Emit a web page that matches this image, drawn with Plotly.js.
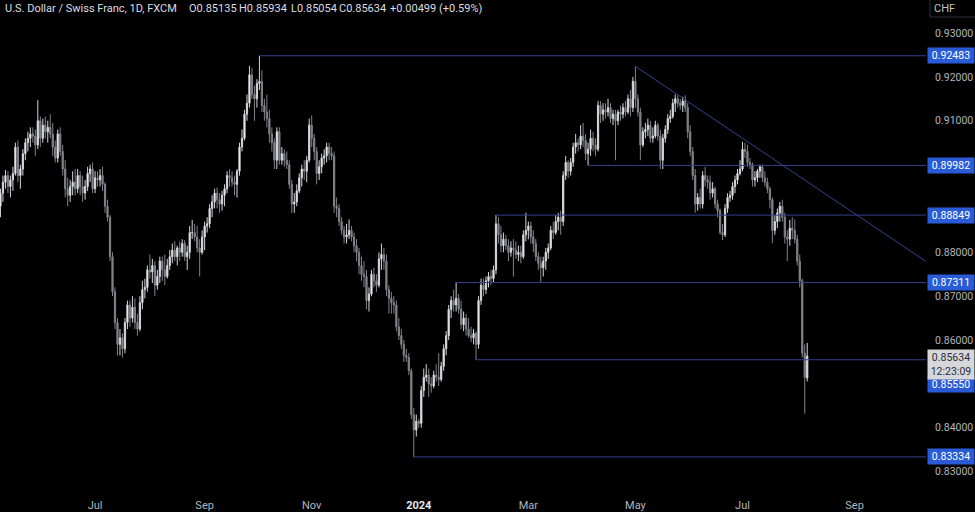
<!DOCTYPE html>
<html><head><meta charset="utf-8">
<script src="https://cdn.plot.ly/plotly-3.0.1.min.js"></script>
<style>html,body{margin:0;padding:0;background:#000;}#chart{width:975px;height:512px;}</style>
</head><body><div id="chart"></div>
<script>
// ---- data (USD/CHF daily, FXCM) ----
const startDate = '2023-05-10';
const open = [
.8905,.8935,.8960,.8975,.8950,.8965,.8980,.9040,.8975,.8990,
.9025,.9050,.9060,.9070,.9065,.9045,.9100,.9060,.9090,.9075,
.9085,.9070,.9040,.9015,.9070,.9030,.8990,.8945,.8930,.8950,
.8960,.8945,.8975,.8950,.8935,.8950,.8980,.8990,.8945,.8970,
.8965,.8975,.8955,.8905,.8880,.8790,.8710,.8640,.8590,.8605,
.8580,.8640,.8680,.8650,.8675,.8640,.8625,.8685,.8715,.8720,
.8760,.8755,.8770,.8725,.8745,.8780,.8760,.8745,.8770,.8790,
.8805,.8790,.8810,.8800,.8820,.8790,.8800,.8845,.8845,.8835,
.8810,.8800,.8835,.8860,.8865,.8900,.8915,.8935,.8920,.8910,
.8930,.8945,.8975,.8970,.8960,.8955,.8985,.9040,.9060,.9115,
.9140,.9205,.9160,.9150,.9185,.9190,.9135,.9120,.9105,.9070,
.9050,.9010,.9075,.9010,.9025,.9010,.9000,.8955,.8910,.8915,
.8940,.8970,.8990,.8985,.9010,.9090,.9060,.9030,.8980,.8995,
.9015,.9020,.9040,.9025,.9020,.8905,.8900,.8870,.8850,.8835,
.8840,.8850,.8835,.8815,.8800,.8770,.8750,.8745,.8690,.8705,
.8750,.8735,.8725,.8785,.8795,.8780,.8715,.8695,.8685,.8680,
.8630,.8610,.8590,.8565,.8560,.8530,.8430,.8395,.8415,.8410,
.8485,.8515,.8520,.8500,.8495,.8520,.8515,.8510,.8540,.8580,
.8610,.8670,.8690,.8680,.8695,.8670,.8635,.8650,.8625,.8610,
.8605,.8615,.8590,.8690,.8725,.8715,.8735,.8745,.8740,.8760,
.8865,.8840,.8815,.8830,.8815,.8800,.8810,.8805,.8795,.8800,
.8790,.8840,.8850,.8860,.8835,.8820,.8790,.8775,.8765,.8780,
.8800,.8810,.8850,.8845,.8870,.8880,.8870,.8975,.9005,.8985,
.9005,.9040,.9050,.9045,.9065,.9055,.9025,.9035,.9060,.9045,
.9035,.9135,.9115,.9125,.9120,.9130,.9105,.9115,.9100,.9120,
.9115,.9130,.9120,.9150,.9130,.9190,.9150,.9120,.9045,.9075,
.9080,.9090,.9060,.9065,.9090,.9065,.9010,.9060,.9080,.9105,
.9110,.9140,.9150,.9140,.9135,.9145,.9130,.9075,.9030,.8975,
.8910,.8925,.8910,.8975,.8965,.8960,.8935,.8945,.8910,.8895,
.8845,.8840,.8900,.8925,.8930,.8950,.8965,.8980,.8990,.9035,
.9030,.9005,.9000,.8965,.8970,.8985,.8995,.8970,.8960,.8945,
.8920,.8850,.8870,.8890,.8905,.8880,.8835,.8830,.8855,.8850,
.8830,.8780,.8735,.8570,.85135];
const high = [
.8945,.8975,.8988,.8985,.8975,.8995,.9050,.9055,.9000,.9035,
.9060,.9075,.9085,.9085,.9080,.9147,.9110,.9105,.9110,.9100,
.9115,.9095,.9055,.9080,.9085,.9045,.9010,.8970,.8965,.8985,
.8990,.8990,.8985,.8975,.8965,.8995,.9000,.9005,.8985,.8985,
.8990,.8995,.8960,.8920,.8885,.8800,.8720,.8650,.8625,.8615,
.8650,.8690,.8690,.8700,.8695,.8660,.8700,.8735,.8740,.8770,
.8795,.8785,.8780,.8760,.8790,.8790,.8795,.8785,.8805,.8820,
.8825,.8815,.8825,.8830,.8828,.8815,.8860,.8874,.8865,.8860,
.8830,.8850,.8870,.8880,.8910,.8930,.8945,.8948,.8935,.8940,
.8955,.8985,.8990,.8985,.8975,.8990,.9050,.9080,.9125,.9160,
.9225,.9220,.9180,.9195,.9248,.9215,.9150,.9160,.9125,.9085,
.9060,.9085,.9085,.9040,.9035,.9030,.9010,.8965,.8935,.8955,
.8980,.9000,.9010,.9020,.9105,.9112,.9070,.9040,.9010,.9025,
.9035,.9050,.9050,.9040,.9030,.8925,.8910,.8880,.8860,.8865,
.8875,.8860,.8845,.8830,.8810,.8790,.8780,.8760,.8720,.8760,
.8765,.8750,.8800,.8820,.8810,.8795,.8725,.8710,.8700,.8690,
.8650,.8625,.8600,.8580,.8570,.8535,.8445,.8430,.8420,.8495,
.8535,.8545,.8535,.8515,.8530,.8545,.8570,.8550,.8590,.8620,
.8680,.8700,.8715,.8731,.8705,.8690,.8665,.8660,.8650,.8630,
.8625,.8620,.8700,.8740,.8740,.8745,.8755,.8760,.8770,.8885,
.8880,.8860,.8845,.8840,.8830,.8825,.8830,.8825,.8815,.8815,
.8850,.8890,.8870,.8870,.8850,.8830,.8800,.8790,.8790,.8810,
.8820,.8860,.8870,.8885,.8890,.8895,.8985,.9020,.9010,.9015,
.9050,.9070,.9060,.9090,.9095,.9070,.9050,.9080,.9075,.9060,
.9145,.9145,.9140,.9140,.9150,.9140,.9125,.9125,.9125,.9135,
.9140,.9145,.9160,.9170,.9200,.9224,.9160,.9130,.9085,.9095,
.9105,.9100,.9085,.9100,.9095,.9080,.9070,.9090,.9115,.9125,
.9150,.9160,.9158,.9150,.9155,.9158,.9140,.9090,.9040,.8990,
.8935,.8945,.8985,.8995,.8975,.8975,.8960,.8950,.8920,.8900,
.8865,.8910,.8935,.8940,.8960,.8975,.8990,.9010,.9052,.9050,
.9045,.9015,.9005,.8985,.8990,.9000,.9000,.8985,.8970,.8950,
.8925,.8885,.8900,.8915,.8920,.8890,.8850,.8874,.8880,.8875,
.8840,.8795,.8740,.8590,.85934];
const low = [
.8880,.8915,.8945,.8935,.8925,.8940,.8975,.8960,.8945,.8975,
.9010,.9030,.9040,.9050,.9020,.9035,.9040,.9050,.9060,.9050,
.9060,.9020,.9005,.9005,.9020,.8975,.8925,.8905,.8915,.8930,
.8930,.8935,.8930,.8915,.8920,.8940,.8960,.8935,.8935,.8950,
.8950,.8940,.8890,.8870,.8780,.8700,.8625,.8565,.8565,.8560,
.8570,.8625,.8630,.8640,.8625,.8610,.8620,.8670,.8695,.8710,
.8740,.8730,.8700,.8715,.8730,.8735,.8725,.8740,.8760,.8775,
.8780,.8770,.8780,.8790,.8780,.8760,.8785,.8830,.8825,.8800,
.8745,.8795,.8805,.8845,.8855,.8880,.8900,.8900,.8890,.8895,
.8905,.8935,.8950,.8950,.8930,.8925,.8975,.9030,.9055,.9100,
.9130,.9150,.9100,.9130,.9170,.9120,.9100,.9085,.9050,.9030,
.8990,.8990,.9000,.9000,.8995,.8990,.8945,.8890,.8890,.8905,
.8935,.8950,.8965,.8960,.9005,.9040,.9010,.8955,.8965,.8980,
.9000,.9005,.9010,.9010,.8890,.8880,.8860,.8840,.8820,.8820,
.8830,.8825,.8800,.8780,.8750,.8735,.8720,.8670,.8665,.8700,
.8720,.8710,.8720,.8760,.8760,.8700,.8660,.8660,.8660,.8620,
.8600,.8580,.8550,.8550,.8520,.8420,.8333,.8380,.8400,.8400,
.8470,.8505,.8470,.8480,.8490,.8505,.8495,.8505,.8530,.8565,
.8600,.8650,.8665,.8665,.8660,.8625,.8620,.8610,.8605,.8595,
.8590,.8555,.8580,.8680,.8700,.8705,.8720,.8725,.8730,.8750,
.8820,.8800,.8800,.8805,.8780,.8790,.8745,.8785,.8780,.8775,
.8785,.8825,.8830,.8820,.8800,.8780,.8760,.8730,.8745,.8760,
.8785,.8805,.8830,.8840,.8850,.8840,.8860,.8965,.8970,.8975,
.8995,.9025,.9030,.9035,.9040,.9010,.8998,.9020,.9030,.9020,
.9030,.9095,.9100,.9105,.9110,.9095,.9090,.9010,.9090,.9100,
.9105,.9110,.9115,.9110,.9120,.9130,.9110,.9010,.9040,.9060,
.9065,.9050,.9050,.9060,.9055,.8990,.8990,.9050,.9070,.9095,
.9105,.9120,.9130,.9125,.9120,.9120,.9060,.9020,.8965,.8890,
.8895,.8900,.8900,.8950,.8945,.8920,.8925,.8900,.8880,.8840,
.8828,.8835,.8890,.8915,.8920,.8935,.8955,.8975,.8985,.9015,
.8995,.8990,.8950,.8950,.8960,.8970,.8960,.8950,.8935,.8900,
.8821,.8840,.8855,.8870,.8870,.8820,.8780,.8815,.8830,.8820,
.8770,.8720,.8560,.8432,.85054];
const close = [
.8935,.8960,.8975,.8950,.8965,.8980,.9040,.8975,.8990,.9025,
.9050,.9060,.9070,.9065,.9045,.9100,.9060,.9090,.9075,.9085,
.9070,.9040,.9015,.9070,.9030,.8990,.8945,.8930,.8950,.8960,
.8945,.8975,.8950,.8935,.8950,.8980,.8990,.8945,.8970,.8965,
.8975,.8955,.8905,.8880,.8790,.8710,.8640,.8590,.8605,.8580,
.8640,.8680,.8650,.8675,.8640,.8625,.8685,.8715,.8720,.8760,
.8755,.8770,.8725,.8745,.8780,.8760,.8745,.8770,.8790,.8805,
.8790,.8810,.8800,.8820,.8790,.8800,.8845,.8845,.8835,.8810,
.8800,.8835,.8860,.8865,.8900,.8915,.8935,.8920,.8910,.8930,
.8945,.8975,.8970,.8960,.8955,.8985,.9040,.9060,.9115,.9140,
.9205,.9160,.9150,.9185,.9190,.9135,.9120,.9105,.9070,.9050,
.9010,.9075,.9010,.9025,.9010,.9000,.8955,.8910,.8915,.8940,
.8970,.8990,.8985,.9010,.9090,.9060,.9030,.8980,.8995,.9015,
.9020,.9040,.9025,.9020,.8905,.8900,.8870,.8850,.8835,.8840,
.8850,.8835,.8815,.8800,.8770,.8750,.8745,.8690,.8705,.8750,
.8735,.8725,.8785,.8795,.8780,.8715,.8695,.8685,.8680,.8630,
.8610,.8590,.8565,.8560,.8530,.8430,.8395,.8415,.8410,.8485,
.8515,.8520,.8500,.8495,.8520,.8515,.8510,.8540,.8580,.8610,
.8670,.8690,.8680,.8695,.8670,.8635,.8650,.8625,.8610,.8605,
.8615,.8590,.8690,.8725,.8715,.8735,.8745,.8740,.8760,.8865,
.8840,.8815,.8830,.8815,.8800,.8810,.8805,.8795,.8800,.8790,
.8840,.8850,.8860,.8835,.8820,.8790,.8775,.8765,.8780,.8800,
.8810,.8850,.8845,.8870,.8880,.8870,.8975,.9005,.8985,.9005,
.9040,.9050,.9045,.9065,.9055,.9025,.9035,.9060,.9045,.9035,
.9135,.9115,.9125,.9120,.9130,.9105,.9115,.9100,.9120,.9115,
.9130,.9120,.9150,.9130,.9190,.9150,.9120,.9045,.9075,.9080,
.9090,.9060,.9065,.9090,.9065,.9010,.9060,.9080,.9105,.9110,
.9140,.9150,.9140,.9135,.9145,.9130,.9075,.9030,.8975,.8910,
.8925,.8910,.8975,.8965,.8960,.8935,.8945,.8910,.8895,.8845,
.8840,.8900,.8925,.8930,.8950,.8965,.8980,.8990,.9035,.9030,
.9005,.9000,.8965,.8970,.8985,.8995,.8970,.8960,.8945,.8920,
.8850,.8870,.8890,.8905,.8880,.8835,.8830,.8855,.8850,.8830,
.8780,.8735,.8570,.8515,.85634];

// axis labels
const tickDates = ['2023-07-03','2023-09-01','2023-11-01','2024-01-01','2024-03-01','2024-05-01','2024-07-01','2024-09-02'];
const tickLabels = ['Jul','Sep','Nov','<span style="color:#e8e9ec"><b>2024</b></span>','Mar','May','Jul','Sep'];
// price ticks not hidden behind the level labels
const yTicks = [0.83,0.84,0.86,0.87,0.88,0.91,0.92,0.93];

// drawn levels & trendline
const levelPrices = [0.92483, 0.89982, 0.88849, 0.87311, 0.85550, 0.83334];
const levelStarts = ['2023-10-03','2024-04-04','2024-02-13','2024-01-22','2024-02-01','2023-12-28'];
const lineEnd = '2024-10-11';
const trendDates = ['2024-05-01','2024-10-11'];
const trendPrices = [0.9224, 0.8778];

// header / status
const symbolTitle = 'U.S. Dollar / Swiss Franc, 1D, FXCM';
const ohlcLabels = ['O0.85135','H0.85934','L0.85054','C0.85634','+0.00499 (+0.59%)'];
const lastPrice = 0.85634;
const countdown = '12:23:09';

// ---- build ----
function tradingDays(start, n){
  const out=[]; const d=new Date(start+'T00:00:00Z');
  while(out.length<n){const w=d.getUTCDay(); if(w!==0&&w!==6) out.push(d.toISOString().slice(0,10)); d.setUTCDate(d.getUTCDate()+1);}
  return out;
}
const dates = tradingDays(startDate, close.length);

const LINE_COL = '#35418c';
const traces = [];
levelPrices.forEach((p,k)=>{
  traces.push({type:'scatter',mode:'lines',x:[levelStarts[k],lineEnd],y:[p,p],
    line:{color:LINE_COL,width:1},hoverinfo:'skip',showlegend:false});
});
traces.push({type:'scatter',mode:'lines',x:trendDates,y:trendPrices,
  line:{color:LINE_COL,width:1},hoverinfo:'skip',showlegend:false});
traces.push({type:'candlestick',x:dates,open:open,high:high,low:low,close:close,
  increasing:{line:{color:'#d4d5d9',width:1},fillcolor:'#ffffff'},
  decreasing:{line:{color:'#80838c',width:1},fillcolor:'#80838c'},
  whiskerwidth:0,hoverinfo:'skip',showlegend:false});

const W=926, H=486;
const annotations = [];
const hdrX = [3,187,237,289,337,388];
[symbolTitle].concat(ohlcLabels).forEach((t,k)=>{
  annotations.push({xref:'paper',yref:'paper',x:hdrX[k]/W,y:1-8/H,xanchor:'left',yanchor:'middle',
    text:t,showarrow:false,font:{size:11,color:'#dcdde1'}});
});
levelPrices.forEach(p=>{
  annotations.push({xref:'paper',yref:'y',x:1,y:p,xanchor:'left',yanchor:'middle',xshift:1,
    yshift:(p===0.8555?-25:0),text:p.toFixed(5),showarrow:false,bgcolor:'#2a5bd7',
    width:44,height:13,borderpad:1,font:{size:10.5,color:'#ffffff'}});
});
annotations.push({xref:'paper',yref:'y',x:1,y:lastPrice,xanchor:'left',yanchor:'top',xshift:1,yshift:7,
  text:lastPrice.toFixed(5)+'<br>'+countdown,showarrow:false,bgcolor:'#d6d7db',width:44,borderpad:1,
  font:{size:10.5,color:'#2a2e39'}});
annotations.push({xref:'paper',yref:'paper',x:944/W,y:1-8/H,xanchor:'center',yanchor:'middle',
  text:'CHF',showarrow:false,font:{size:11,color:'#c0c2c8'}});

const shapes = [{type:'rect',xref:'paper',yref:'paper',x0:930/W,x1:985/W,y0:1-17/H,y1:1.02,
  line:{color:'#2f3340',width:1},fillcolor:'rgba(0,0,0,0)'}];

const layout = {
  width:975,height:512,paper_bgcolor:'#000000',plot_bgcolor:'#000000',
  margin:{l:0,r:49,t:0,b:26},showlegend:false,
  font:{family:'Roboto, sans-serif',color:'#b2b5be',size:11},
  xaxis:{type:'date',range:['2023-05-09 19:34','2024-10-10 16:48'],
    rangebreaks:[{bounds:['sat','mon']}],rangeslider:{visible:false},
    showgrid:false,zeroline:false,showline:false,
    tickmode:'array',tickvals:tickDates,ticktext:tickLabels,
    ticks:'outside',ticklen:9,tickcolor:'rgba(0,0,0,0)',
    tickfont:{size:11,color:'#b2b5be'},fixedrange:true},
  yaxis:{side:'right',range:[0.826707,0.937541],tickmode:'array',tickvals:yTicks,
    tickformat:'.5f',showgrid:false,zeroline:false,showline:false,
    ticks:'outside',ticklen:6,tickcolor:'rgba(0,0,0,0)',
    tickfont:{size:10.5,color:'#b2b5be'},fixedrange:true},
  annotations:annotations,shapes:shapes
};
Plotly.newPlot('chart',traces,layout,{staticPlot:true,displayModeBar:false});
</script>
</body></html>
